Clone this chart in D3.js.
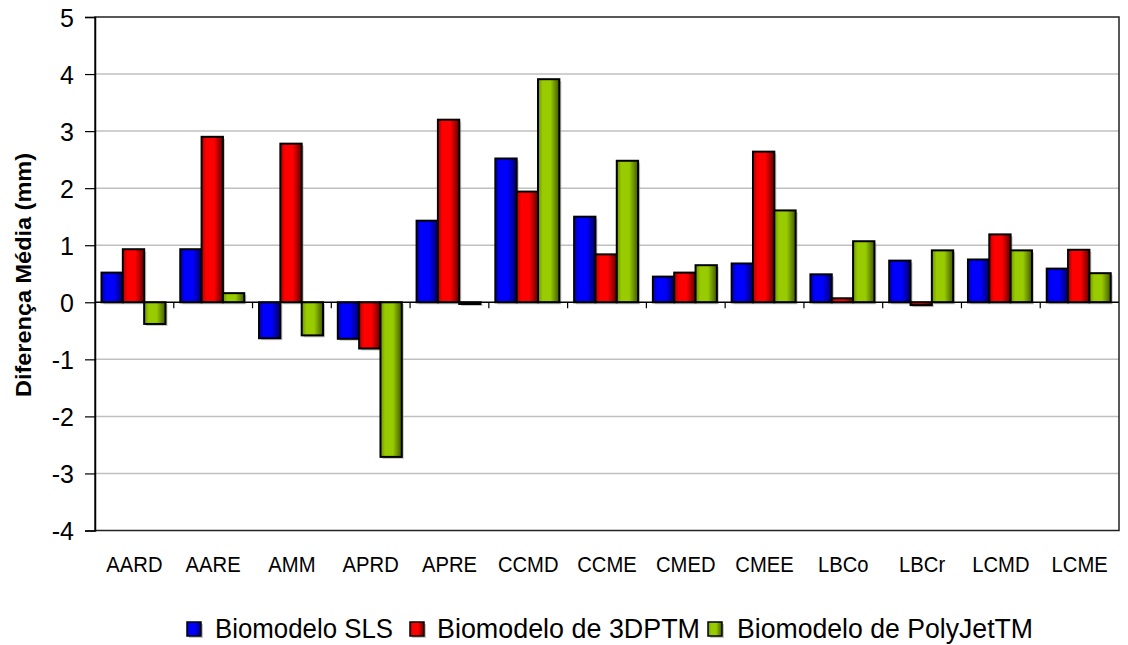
<!DOCTYPE html>
<html>
<head>
<meta charset="utf-8">
<script src="https://cdn.jsdelivr.net/npm/d3@7/dist/d3.min.js"></script>
<style>
  html, body { margin: 0; padding: 0; background: #fff; }
  svg { display: block; font-family: "Liberation Sans", Arial, sans-serif; }
</style>
</head>
<body>
<svg id="chart" width="1128" height="645"></svg>
<script>
const categories = ["AARD","AARE","AMM","APRD","APRE","CCMD","CCME","CMED","CMEE","LBCo","LBCr","LCMD","LCME"];
const seriesNames = ["Biomodelo SLS","Biomodelo de 3DPTM","Biomodelo de PolyJetTM"];
const slsValues     = [0.52, 0.93, -0.63, -0.64, 1.43, 2.52, 1.50, 0.45, 0.68, 0.49, 0.73, 0.75, 0.59];
const dptmValues    = [0.93, 2.90, 2.78, -0.81, 3.20, 1.94, 0.84, 0.52, 2.64, 0.07, -0.05, 1.19, 0.92];
const polyjetValues = [-0.38, 0.16, -0.58, -2.71, -0.03, 3.91, 2.48, 0.65, 1.61, 1.07, 0.91, 0.91, 0.51];
const yTicks = [-4,-3,-2,-1,0,1,2,3,4,5];
const yTitle = "Diferença Média (mm)";

(function () {
const seriesValues = [slsValues, dptmValues, polyjetValues];
const colors = [
  {dark:"#000060", mid:"#0000ff", id:"gBlue"},
  {dark:"#600000", mid:"#ff0000", id:"gRed"},
  {dark:"#405800", mid:"#99cc00", id:"gGreen"}
];

const svg = d3.select("#chart");
const pL = 95, pR = 1119, pT = 17, pB = 530.5;

const defs = svg.append("defs");
colors.forEach(c => {
  const g = defs.append("linearGradient").attr("id", c.id).attr("x1","0").attr("x2","1").attr("y1","0").attr("y2","0");
  g.append("stop").attr("offset","0%").attr("stop-color", d3.interpolateRgb(c.dark, c.mid)(0.5));
  g.append("stop").attr("offset","22%").attr("stop-color", c.mid);
  g.append("stop").attr("offset","58%").attr("stop-color", c.mid);
  g.append("stop").attr("offset","100%").attr("stop-color", c.dark);
});

const x0 = d3.scaleBand().domain(categories).range([pL, pR]).paddingInner(0).paddingOuter(0);
const x1 = d3.scaleBand().domain(seriesNames).range([6.5, 70.5]);
const y = d3.scaleLinear().domain([-4, 5]).range([pB, pT]);

// gridlines
svg.append("g").selectAll("line").data(yTicks.filter(t => t !== 0 && t !== 5 && t !== -4)).join("line")
  .attr("x1", pL).attr("x2", pR)
  .attr("y1", d => y(d)).attr("y2", d => y(d))
  .attr("stroke", "#c0c0c0").attr("stroke-width", 1.5);

// plot frame
svg.append("rect").attr("x", pL).attr("y", pT).attr("width", pR - pL).attr("height", pB - pT)
  .attr("fill", "none").attr("stroke", "#222").attr("stroke-width", 1.5);

// bars
const gBars = svg.append("g");
categories.forEach((cat, i) => {
  seriesNames.forEach((s, j) => {
    const v = seriesValues[j][i];
    const bx = x0(cat) + x1(s);
    const by = Math.min(y(v), y(0));
    const bh = Math.max(Math.abs(y(v) - y(0)), 1.5);
    gBars.append("rect").attr("x", bx + 2).attr("y", by + 2).attr("width", x1.bandwidth()).attr("height", bh)
      .attr("fill", "#9a9a9a").attr("opacity", 0.55);
    gBars.append("rect").attr("x", bx).attr("y", by).attr("width", x1.bandwidth()).attr("height", bh)
      .attr("fill", `url(#${colors[j].id})`).attr("stroke", "#000").attr("stroke-width", 2);
  });
});

// zero line and ticks
svg.append("line").attr("x1", pL).attr("x2", pR).attr("y1", y(0)).attr("y2", y(0))
  .attr("stroke", "#000").attr("stroke-width", 1.5);
svg.append("g").selectAll("line").data(categories.slice(1)).join("line")
  .attr("x1", d => x0(d)).attr("x2", d => x0(d))
  .attr("y1", y(0)).attr("y2", y(0) + 6)
  .attr("stroke", "#000").attr("stroke-width", 1.2);

// y axis
const yAxis = d3.axisLeft(y).tickValues(yTicks).tickSize(10).tickPadding(11).tickFormat(d => d < 0 ? "-" + Math.abs(d) : String(d));
const ya = svg.append("g").attr("transform", `translate(${pL},0)`).call(yAxis);
ya.attr("font-size", null).attr("font-family", null);
ya.select(".domain").attr("stroke", "#000").attr("stroke-width", 1.5);
ya.selectAll(".tick line").attr("stroke", "#000").attr("stroke-width", 1.2);
ya.selectAll(".tick text").style("font-size", "25px").attr("fill", "#000")
  .style("font-family", "'Liberation Sans', Arial, sans-serif").attr("dy", "0.36em");

// x labels
svg.append("g").selectAll("text").data(categories).join("text")
  .attr("transform", d => `translate(${x0(d) + x0.bandwidth() / 2},572) scale(0.92,1)`)
  .attr("text-anchor", "middle").style("font-size", "22px").attr("fill", "#000")
  .text(d => d);

// y title
svg.append("text").attr("transform", "translate(31,275) rotate(-90)")
  .attr("text-anchor", "middle").style("font-size", "22px").attr("font-weight", "bold")
  .attr("textLength", 244).attr("lengthAdjust", "spacingAndGlyphs")
  .text(yTitle);

// legend
const legendPos = [{sx:187, tx:215, tl:178}, {sx:410, tx:437, tl:263}, {sx:708, tx:737, tl:296}];
seriesNames.forEach((s, j) => {
  const p = legendPos[j];
  svg.append("rect").attr("x", p.sx + 2).attr("y", 624).attr("width", 14).attr("height", 14)
    .attr("fill", "#9a9a9a").attr("opacity", 0.55);
  svg.append("rect").attr("x", p.sx).attr("y", 622).attr("width", 14).attr("height", 14)
    .attr("fill", `url(#${colors[j].id})`).attr("stroke", "#000").attr("stroke-width", 1.5);
  svg.append("text").attr("x", p.tx).attr("y", 638).style("font-size", "27px").attr("fill", "#000")
    .attr("textLength", p.tl).attr("lengthAdjust", "spacingAndGlyphs").text(s);
});
})();
</script>
</body>
</html>
